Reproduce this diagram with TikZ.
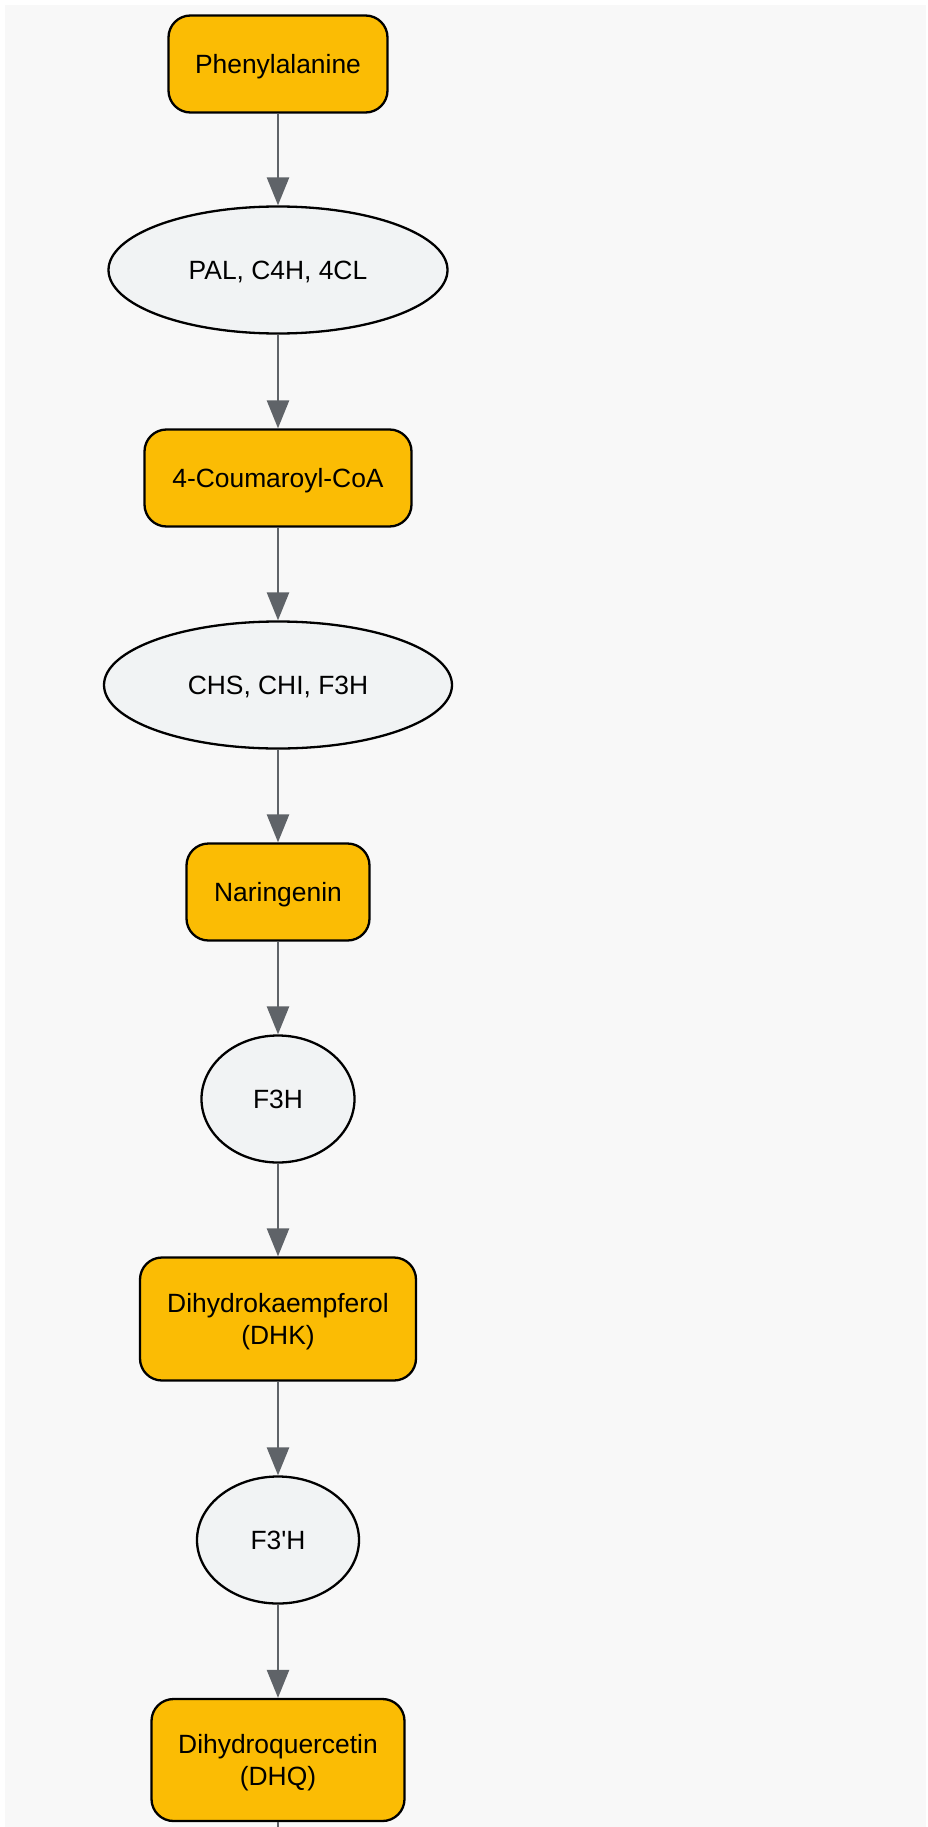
\documentclass[tikz,border=0pt]{standalone}
\usepackage{fontspec}
\setmainfont{Liberation Sans}
\usetikzlibrary{shapes.geometric,arrows.meta}
\definecolor{bgc}{HTML}{F8F8F8}
\definecolor{metab}{HTML}{FBBC04}
\definecolor{enz}{HTML}{F1F3F4}
\definecolor{edgec}{HTML}{5F6368}
\begin{document}
\begin{tikzpicture}[x=1pt,y=1pt,
  every node/.style={font=\fontsize{26.4}{32.5}\selectfont, text=black, align=center, inner sep=0pt, text depth=0pt},
  metabox/.style={rectangle, rounded corners=22pt, draw=black, line width=2.3pt, fill=metab},
  enzell/.style={ellipse, draw=black, line width=2.3pt, fill=enz},
  flow/.style={draw=edgec, line width=2.6pt, -{Triangle[width=22pt,length=28pt]}}
]
\useasboundingbox (0,0) rectangle (927,-1827);
\fill[bgc] (5,-5) rectangle (926,-1827);

\node[metabox, minimum width=219pt, minimum height=97pt] (phe) at (278,-64) {Phenylalanine};
\node[enzell, minimum width=339pt, minimum height=127pt] (pal) at (278,-270) {PAL, C4H, 4CL};
\node[metabox, minimum width=267pt, minimum height=97pt] (cou) at (278,-478) {4-Coumaroyl-CoA};
\node[enzell, minimum width=348pt, minimum height=127pt] (chs) at (278,-685) {CHS, CHI, F3H};
\node[metabox, minimum width=183pt, minimum height=97pt] (nar) at (278,-892) {Naringenin};
\node[enzell, minimum width=153pt, minimum height=127pt] (f3h) at (278,-1099) {F3H};
\node[metabox, minimum width=276pt, minimum height=123pt] (dhk) at (278,-1319) {Dihydrokaempferol\\(DHK)};
\node[enzell, minimum width=162pt, minimum height=127pt] (f3ph) at (278,-1540) {F3\textquotesingle H};
\node[metabox, minimum width=253pt, minimum height=122pt] (dhq) at (278,-1760) {Dihydroquercetin\\(DHQ)};
\coordinate (bot) at (278,-1830);

\draw[flow] (phe) -- (pal);
\draw[flow] (pal) -- (cou);
\draw[flow] (cou) -- (chs);
\draw[flow] (chs) -- (nar);
\draw[flow] (nar) -- (f3h);
\draw[flow] (f3h) -- (dhk);
\draw[flow] (dhk) -- (f3ph);
\draw[flow] (f3ph) -- (dhq);
\draw[draw=edgec, line width=2.6pt] (dhq.south) -- (bot);
\end{tikzpicture}
\end{document}
